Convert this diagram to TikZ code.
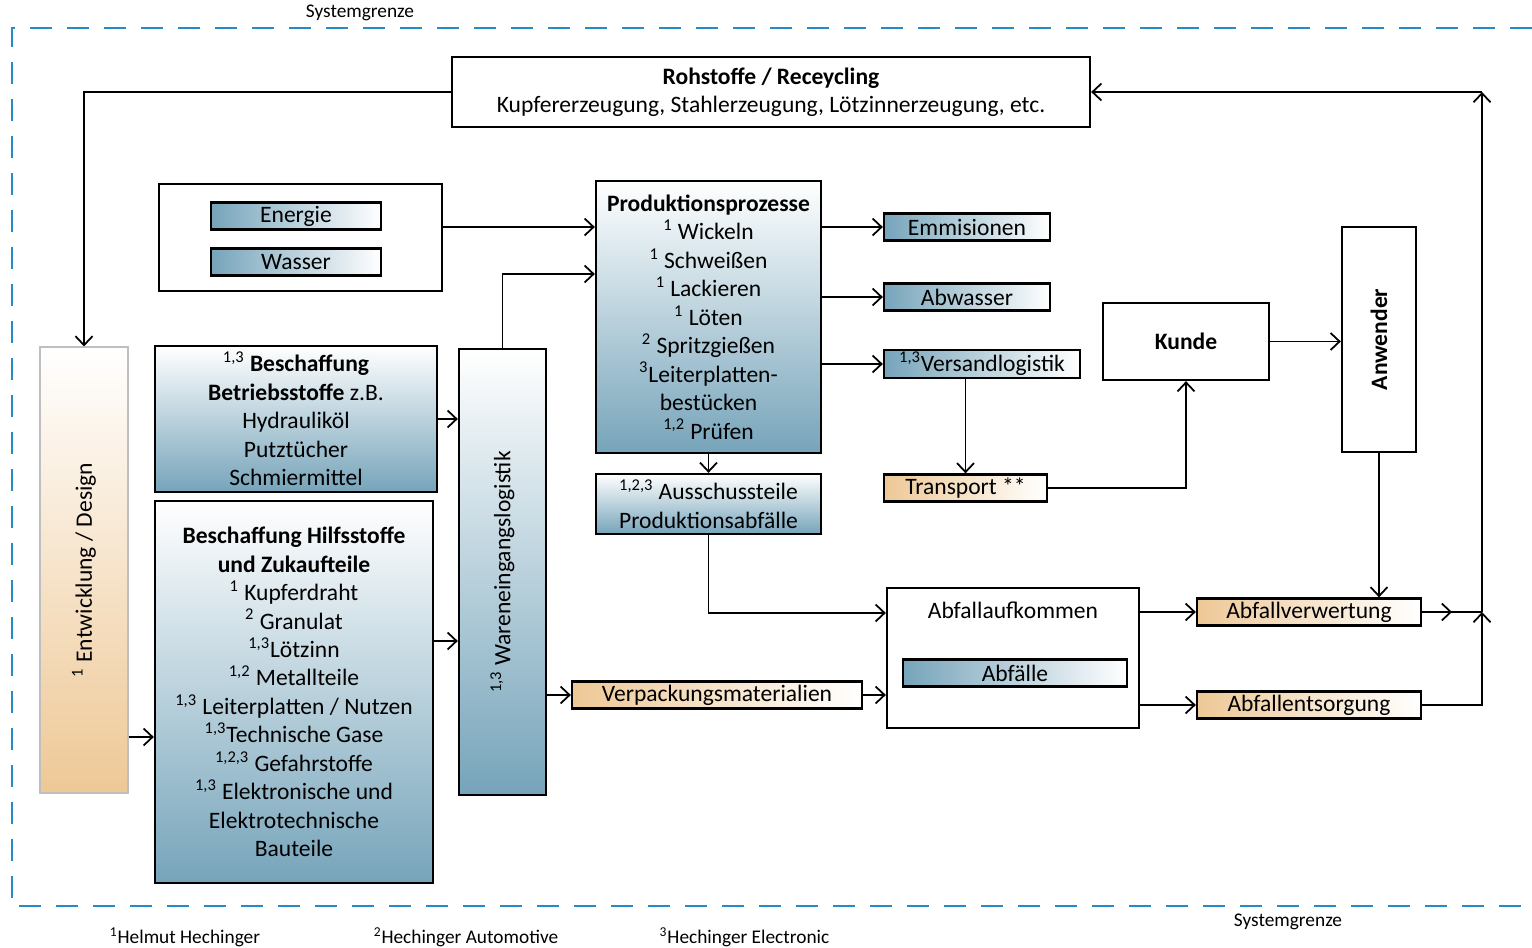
\documentclass[tikz,border=0pt]{standalone}
\usepackage{fontspec}
\setmainfont{Carlito}
\usepackage{graphicx}
\usetikzlibrary{arrows.meta,calc}

\definecolor{boxblue}{RGB}{118,164,186}
\definecolor{boxorange}{RGB}{238,200,150}
\definecolor{sysblue}{RGB}{38,140,200}

\newcommand{\idx}[1]{\textsuperscript{#1}}

\tikzset{
  plainbox/.style={draw, line width=1.3pt, inner sep=1pt, align=center},
  bluebar/.style={plainbox, left color=boxblue, right color=white, minimum height=0.54cm},
  orangebar/.style={plainbox, left color=boxorange, right color=white, minimum height=0.54cm},
  bluebig/.style={plainbox, top color=white, bottom color=boxblue},
  arr/.style={-{Straight Barb[length=1.8mm,width=3.4mm]}, line width=1pt},
  link/.style={line width=1pt},
  sysline/.style={draw=sysblue, line width=1.5pt, dash pattern=on 0.44cm off 0.3cm},
  foot/.style={font=\fontsize{11}{13}\selectfont}
}

\begin{document}
\begin{tikzpicture}[every node/.style={font=\fontsize{13.4}{16.2}\selectfont}]
\useasboundingbox (0,0) rectangle (30.64,18.96);

% system boundary
\draw[sysline] (30.64,18.4) -- (0.24,18.4) -- (0.24,0.84) -- (30.64,0.84);
\node[foot] (sgtop) at (7.2,18.7) {Systemgrenze};
\node[foot] (sgbot) at (25.76,0.52) {Systemgrenze};

\node[plainbox, minimum width=12.76cm, minimum height=1.4cm] (roh) at (15.42,17.12)
{\textbf{Rohstoffe / Receycling}\\Kupfererzeugung, Stahlerzeugung, Lötzinnerzeugung, etc.};

\node[plainbox, minimum width=5.66cm, minimum height=2.14cm] (ew) at (6.01,14.21) {};
\node[bluebar, minimum width=3.4cm] (ener) at (5.92,14.64) {Energie};
\node[bluebar, minimum width=3.4cm] (wass) at (5.92,13.72) {Wasser};

\node[plainbox, draw=gray!50, line width=0.6pt, top color=white, bottom color=boxorange,
  minimum width=1.76cm, minimum height=8.92cm] (entw) at (1.68,7.56)
{\rotatebox{90}{\idx{1} Entwicklung / Design}};

\node[bluebig, minimum width=5.64cm, minimum height=2.92cm] (betr) at (5.92,10.58)
{\idx{1,3} \textbf{Beschaffung}\\\textbf{Betriebsstoffe} z.B.\\Hydrauliköl\\Putztücher\\Schmiermittel};

\node[bluebig, minimum width=5.56cm, minimum height=7.64cm] (hilf) at (5.88,5.12)
{\textbf{Beschaffung Hilfsstoffe}\\\textbf{und Zukaufteile}\\\idx{1} Kupferdraht\\\idx{2} Granulat\\
\idx{1,3}Lötzinn\\\idx{1,2} Metallteile\\\idx{1,3} Leiterplatten / Nutzen\\\idx{1,3}Technische Gase\\
\idx{1,2,3} Gefahrstoffe\\\idx{1,3} Elektronische und\\Elektrotechnische\\Bauteile};

\node[bluebig, minimum width=1.74cm, minimum height=8.92cm] (wein) at (10.05,7.52)
{\rotatebox{90}{\idx{1,3} Wareneingangslogistik}};

\node[bluebig, minimum width=4.5cm, minimum height=5.44cm] (prod) at (14.17,12.62)
{\textbf{Produktionsprozesse}\\\idx{1} Wickeln\\\idx{1} Schweißen\\\idx{1} Lackieren\\\idx{1} Löten\\
\idx{2} Spritzgießen\\\idx{3}Leiterplatten-\\bestücken\\\idx{1,2} Prüfen};

\node[bluebig, minimum width=4.5cm, minimum height=1.2cm] (aus) at (14.17,8.88)
{\idx{1,2,3} Ausschussteile\\Produktionsabfälle};

\node[bluebar, minimum width=3.32cm] (emi) at (19.34,14.42) {Emmisionen};
\node[bluebar, minimum width=3.32cm] (abw) at (19.34,13.02) {Abwasser};
\node[bluebar, minimum width=3.92cm] (vers) at (19.64,11.68) {\idx{1,3}Versandlogistik};
\node[orangebar, minimum width=3.26cm] (trans) at (19.31,9.2) {Transport **};

\node[plainbox, minimum width=3.32cm, minimum height=1.54cm] (kunde) at (23.72,12.13) {\textbf{Kunde}};
\node[plainbox, minimum width=1.48cm, minimum height=4.5cm] (anw) at (27.58,12.17) {\rotatebox{90}{\textbf{Anwender}}};

\node[plainbox, minimum width=5.04cm, minimum height=2.8cm] (aufk) at (20.26,5.8) {};
\node (aufktxt) at (20.26,6.76) {Abfallaufkommen};
\node[bluebar, minimum width=4.48cm] (abf) at (20.3,5.5) {Abfälle};

\node[orangebar, minimum width=5.8cm] (verp) at (14.34,5.06) {Verpackungsmaterialien};
\node[orangebar, minimum width=4.48cm] (verw) at (26.18,6.72) {Abfallverwertung};
\node[orangebar, minimum width=4.48cm] (ents) at (26.18,4.86) {Abfallentsorgung};

% footnotes
\node[foot] (fn1) at (3.7,0.22) {\idx{1}Helmut Hechinger};
\node[foot] (fn2) at (9.32,0.22) {\idx{2}Hechinger Automotive};
\node[foot] (fn3) at (14.89,0.22) {\idx{3}Hechinger Electronic};

% helper points
\coordinate (ret) at (29.64,6.72);
\coordinate (top) at (roh.east -| ret);
\path ([yshift=1.02cm]hilf.east) coordinate (h1);
\path ([yshift=-3.34cm]entw.east) coordinate (e1);

% connectors
\draw[arr] (roh.west) -| (entw.north);
\draw[arr] (e1) -- (e1 -| hilf.west);
\draw[arr] (betr.east) -- (betr.east -| wein.west);
\draw[arr] (h1) -- (h1 -| wein.west);
\draw[arr] (ew.east |- emi) -- (prod.west |- emi);
\draw[arr] (wein.north) |- ([yshift=0.86cm]prod.west);
\draw[arr] (prod.east |- emi) -- (emi.west);
\draw[arr] (prod.east |- abw) -- (abw.west);
\draw[arr] (prod.east |- vers) -- (vers.west);
\draw[arr] (prod.south) -- (aus.north);
\draw[arr] (trans.north |- vers.south) -- (trans.north);
\draw[arr] (trans.east) -| (kunde.south);
\draw[arr] (kunde.east) -- (kunde.east -| anw.west);
\draw[arr] (anw.south) -- (anw.south |- verw.north);
\draw[arr] (aus.south) |- ([yshift=0.9cm]aufk.west);
\draw[arr] (wein.east |- verp) -- (verp.west);
\draw[arr] (verp.east) -- (verp.east -| aufk.west);
\draw[arr] (aufk.east |- verw) -- (verw.west);
\draw[arr] (aufk.east |- ents) -- (ents.west);
\draw[link] (verw.east) -- (ret);
\draw[arr] (verw.east) -- ($(verw.east)!.5!(ret)$);
\draw[arr] (ents.east) -| (ret);
\draw[arr] (ret) -- (top);
\draw[arr] (top) -- (roh.east);
\end{tikzpicture}
\end{document}
